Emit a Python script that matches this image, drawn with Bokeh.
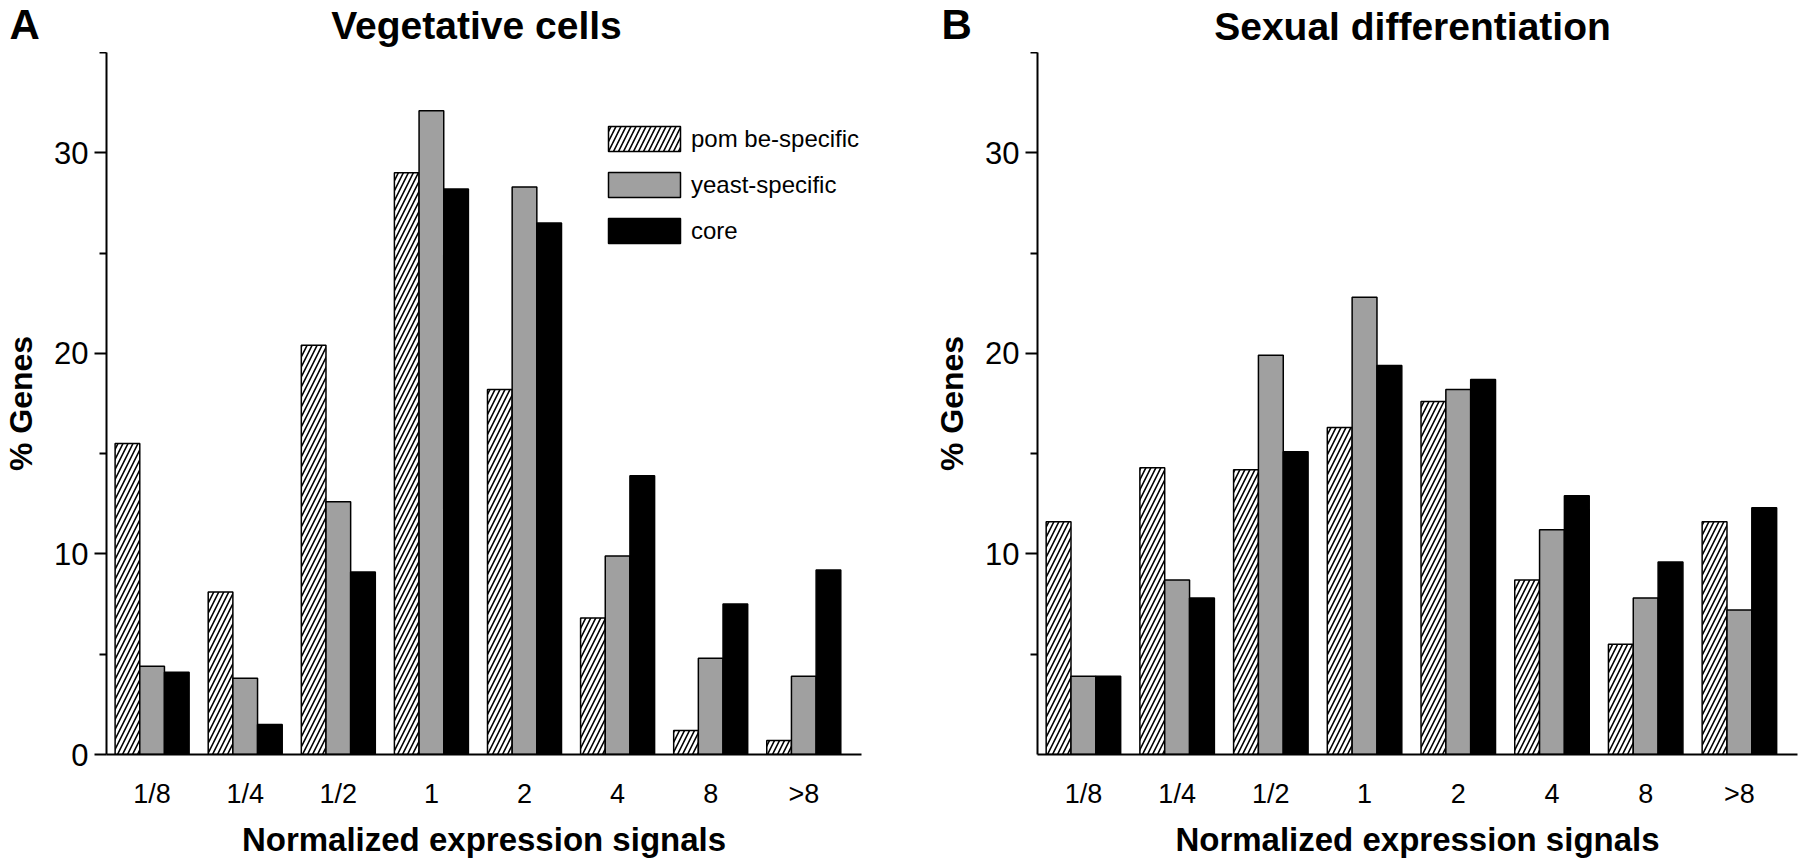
from bokeh.plotting import figure
from bokeh.models import ColumnDataSource, FixedTicker, Legend, LegendItem, Label, Range1d
from bokeh.layouts import row, column
from bokeh.embed import file_html
from bokeh.resources import INLINE
import numpy as np

categories = ["1/8", "1/4", "1/2", "1", "2", "4", "8", ">8"]
series_names = ["pom be-specific", "yeast-specific", "core"]

veg_pombe = [15.5, 8.1, 20.4, 29.0, 18.2, 6.8, 1.2, 0.7]
veg_yeast = [4.4, 3.8, 12.6, 32.1, 28.3, 9.9, 4.8, 3.9]
veg_core = [4.1, 1.5, 9.1, 28.2, 26.5, 13.9, 7.5, 9.2]

sex_pombe = [11.6, 14.3, 14.2, 16.3, 17.6, 8.7, 5.5, 11.6]
sex_yeast = [3.9, 8.7, 19.9, 22.8, 18.2, 11.2, 7.8, 7.2]
sex_core = [3.9, 7.8, 15.1, 19.4, 18.7, 12.9, 9.6, 12.3]

y_major_a = [0, 10, 20, 30]
y_major_b = [10, 20, 30]
y_minor = [5, 15, 25, 35]

FONT = "Liberation Sans"
BAR_W = 0.265
GRAY = "#a0a0a0"
HEADER_H = 52


def make_panel(vals, major, legend, left, right):
    p = figure(width=900, height=860 - HEADER_H, x_range=Range1d(-0.49, 7.62), y_range=Range1d(0, 35),
               output_backend="svg", toolbar_location=None,
               min_border_left=left, min_border_right=right,
               min_border_top=0, min_border_bottom=100)
    p.title.visible = False
    p.outline_line_color = None
    p.xgrid.visible = False
    p.ygrid.visible = False
    p.background_fill_color = "white"
    p.border_fill_color = "white"

    idx = np.arange(len(categories))
    offsets = [-BAR_W, 0.0, BAR_W]
    styles = [
        dict(fill_color="white", hatch_pattern="/", hatch_color="black", hatch_scale=10, hatch_weight=1.6),
        dict(fill_color=GRAY),
        dict(fill_color="black"),
    ]
    renderers = []
    for v, off, st in zip(vals, offsets, styles):
        src = ColumnDataSource(dict(x=idx + off, top=v))
        r = p.vbar(x="x", top="top", bottom=0, width=BAR_W, source=src,
                   line_color="black", line_width=1.5, **st)
        renderers.append(r)

    xa = p.xaxis[0]
    xa.ticker = FixedTicker(ticks=list(idx))
    xa.major_label_overrides = {int(i): c for i, c in zip(idx, categories)}
    xa.major_tick_line_color = None
    xa.minor_tick_line_color = None
    xa.axis_line_width = 2
    xa.major_label_text_font = FONT
    xa.major_label_text_font_size = "27px"
    xa.major_label_text_color = "black"
    xa.major_label_standoff = 18
    xa.axis_label = "Normalized expression signals"
    xa.axis_label_text_font = FONT
    xa.axis_label_text_font_size = "33px"
    xa.axis_label_text_font_style = "bold"
    xa.axis_label_text_color = "black"
    xa.axis_label_standoff = 9

    ya = p.yaxis[0]
    ya.ticker = FixedTicker(ticks=major, minor_ticks=y_minor)
    ya.axis_line_width = 2
    ya.major_tick_out = 12
    ya.major_tick_in = 0
    ya.minor_tick_out = 7
    ya.minor_tick_in = 0
    ya.major_tick_line_width = 2
    ya.minor_tick_line_width = 2
    ya.major_label_text_font = FONT
    ya.major_label_text_font_size = "31px"
    ya.major_label_text_color = "black"
    ya.major_label_standoff = 6
    ya.axis_label = "% Genes"
    ya.axis_label_text_font = FONT
    ya.axis_label_text_font_size = "32px"
    ya.axis_label_text_font_style = "bold"
    ya.axis_label_text_color = "black"
    ya.axis_label_standoff = 12

    if legend:
        lg = Legend(items=[LegendItem(label=s, renderers=[r]) for s, r in zip(series_names, renderers)],
                    location=(493, 508), glyph_width=90, glyph_height=31, label_height=25,
                    label_standoff=2, label_text_font=FONT, label_text_font_size="24px",
                    label_text_color="black",
                    spacing=15, padding=0, margin=0, border_line_color=None,
                    background_fill_alpha=0)
        p.add_layout(lg)
    return p


# header strip carrying the panel letters and panel titles (pixel-scaled ranges)
header = figure(frame_width=1800, frame_height=HEADER_H, x_range=Range1d(0, 1800), y_range=Range1d(0, HEADER_H),
                output_backend="svg", toolbar_location=None, min_border=0,
                x_axis_location=None, y_axis_location=None)
header.title.visible = False
header.outline_line_color = None
header.xgrid.visible = False
header.ygrid.visible = False
for txt, x, y, size, align in [("A", 9, 28.5, "42px", "left"), ("B", 941, 28.5, "42px", "left"),
                               ("Vegetative cells", 476, 27, "39px", "center"),
                               ("Sexual differentiation", 1412, 26, "39px", "center")]:
    header.add_layout(Label(x=x, y=y, text=txt, text_font=FONT, text_font_size=size,
                            text_font_style="bold", text_color="black", text_align=align,
                            text_baseline="middle"))

pA = make_panel([veg_pombe, veg_yeast, veg_core], y_major_a, True, 102, 39)
pB = make_panel([sex_pombe, sex_yeast, sex_core], y_major_b, False, 137, 3)

layout = column(header, row(pA, pB))
open("out.html", "w").write(file_html(layout, INLINE))
